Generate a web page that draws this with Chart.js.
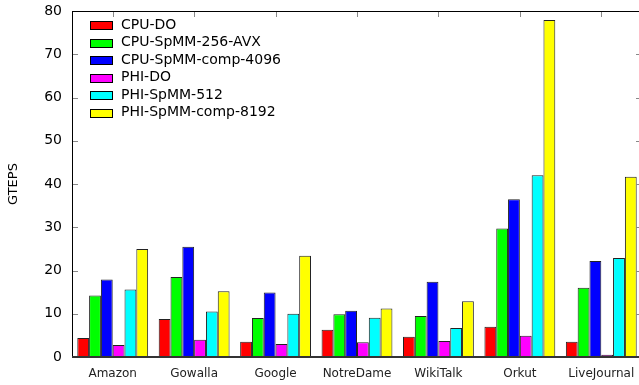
<!DOCTYPE html>
<html>
<head>
<meta charset="utf-8">
<script src="https://cdn.jsdelivr.net/npm/chart.js@4.4.1/dist/chart.umd.min.js"></script>
<style>
  html, body { margin: 0; padding: 0; background: #fff; overflow: hidden; }
  #wrap { width: 645px; height: 385px; position: relative; }
</style>
</head>
<body>
<div id="wrap"><canvas id="myChart"></canvas></div>
<script>
const graphs = ['Amazon', 'Gowalla', 'Google', 'NotreDame', 'WikiTalk', 'Orkut', 'LiveJournal'];

const cpuDO = [4.4, 8.8, 3.5, 6.3, 4.7, 7.0, 3.5];
const cpuSpmm256 = [14.2, 18.5, 9.0, 9.9, 9.5, 29.7, 16.0];
const cpuSpmmComp4096 = [17.9, 25.5, 14.9, 10.7, 17.4, 36.5, 22.2];
const phiDO = [2.8, 4.0, 3.0, 3.4, 3.7, 4.9, 0.5];
const phiSpmm512 = [15.6, 10.5, 10.0, 9.1, 6.7, 42.0, 22.9];
const phiSpmmComp8192 = [25.0, 15.2, 23.4, 11.2, 12.9, 77.9, 41.7];

const yTicks = [0, 10, 20, 30, 40, 50, 60, 70, 80];

const series = [
  { label: 'CPU-DO', data: cpuDO, color: '#ff0000' },
  { label: 'CPU-SpMM-256-AVX', data: cpuSpmm256, color: '#00ff00' },
  { label: 'CPU-SpMM-comp-4096', data: cpuSpmmComp4096, color: '#0000ff' },
  { label: 'PHI-DO', data: phiDO, color: '#ff00ff' },
  { label: 'PHI-SpMM-512', data: phiSpmm512, color: '#00ffff' },
  { label: 'PHI-SpMM-comp-8192', data: phiSpmmComp8192, color: '#ffff00' }
];

const FONT = 'DejaVu Sans';

// cadre, graduations vers l'interieur, legende dans le graphe
const framePlugin = {
  id: 'frame',
  afterDatasetsDraw(chart) {
    const { ctx, chartArea: a, scales } = chart;
    ctx.save();
    ctx.strokeStyle = '#888';
    ctx.lineWidth = 1;
    yTicks.forEach(v => {
      if (v === 0 || v === 80) return;
      const y = Math.round(scales.y.getPixelForValue(v)) + 0.5;
      ctx.beginPath();
      ctx.moveTo(a.left, y);
      ctx.lineTo(a.left + 6, y);
      ctx.moveTo(a.right - 6, y);
      ctx.lineTo(a.right, y);
      ctx.stroke();
    });
    graphs.forEach((g, i) => {
      const x = Math.round(scales.x.getPixelForValue(i)) + 0.5;
      ctx.beginPath();
      ctx.moveTo(x, a.top);
      ctx.lineTo(x, a.top + 6);
      ctx.stroke();
    });
    ctx.strokeStyle = '#000';
    ctx.lineWidth = 1;
    ctx.strokeRect(Math.round(a.left) + 0.5, Math.round(a.top) + 0.5,
      Math.round(a.right - a.left), Math.round(a.bottom - a.top));
    ctx.strokeStyle = '#333';
    ctx.lineWidth = 2;
    ctx.beginPath();
    ctx.moveTo(a.left, Math.round(a.bottom));
    ctx.lineTo(a.right, Math.round(a.bottom));
    ctx.stroke();

    // legende
    ctx.font = '14px "' + FONT + '"';
    ctx.textBaseline = 'middle';
    series.forEach((s, i) => {
      const cy = a.top + 14 + i * 17.5;
      ctx.fillStyle = s.color;
      ctx.fillRect(90.5, Math.round(cy - 4) + 0.5, 22, 8);
      ctx.strokeStyle = '#000';
      ctx.lineWidth = 1;
      ctx.strokeRect(90.5, Math.round(cy - 4) + 0.5, 22, 8);
      ctx.fillStyle = '#000';
      ctx.fillText(s.label, 121, cy);
    });
    ctx.restore();
  }
};

const ctx = document.getElementById('myChart');

new Chart(ctx, {
  type: 'bar',
  data: {
    labels: graphs,
    datasets: series.map(s => ({
      label: s.label,
      data: s.data,
      backgroundColor: s.color,
      borderColor: '#222',
      borderWidth: 1,
      borderSkipped: 'bottom',
      categoryPercentage: 0.87,
      barPercentage: 1.0
    }))
  },
  options: {
    responsive: true,
    maintainAspectRatio: false,
    animation: false,
    layout: { padding: { top: 11, right: 3, left: 0, bottom: 0 } },
    plugins: {
      legend: { display: false },
      tooltip: { enabled: false }
    },
    scales: {
      x: {
        offset: true,
        grid: { display: false, drawTicks: false },
        border: { display: false },
        ticks: { color: '#222', font: { family: FONT, size: 12 }, padding: 10, maxRotation: 0 },
        afterFit(scale) {
          scale.height = 28;
          scale.paddingLeft = 0;
          scale.paddingRight = 0;
        }
      },
      y: {
        min: 0,
        max: 80,
        afterBuildTicks(scale) { scale.ticks = yTicks.map(v => ({ value: v })); },
        grid: { display: false, drawTicks: false },
        border: { display: false },
        ticks: { color: '#000', font: { family: FONT, size: 14 }, padding: 10 },
        title: { display: true, text: 'GTEPS', color: '#000', font: { family: FONT, size: 13 }, padding: { top: 6, bottom: 0 } },
        afterFit(scale) {
          scale.width = 72;
          scale.paddingTop = 0;
          scale.paddingBottom = 0;
        }
      }
    }
  },
  plugins: [framePlugin]
});
</script>
</body>
</html>
